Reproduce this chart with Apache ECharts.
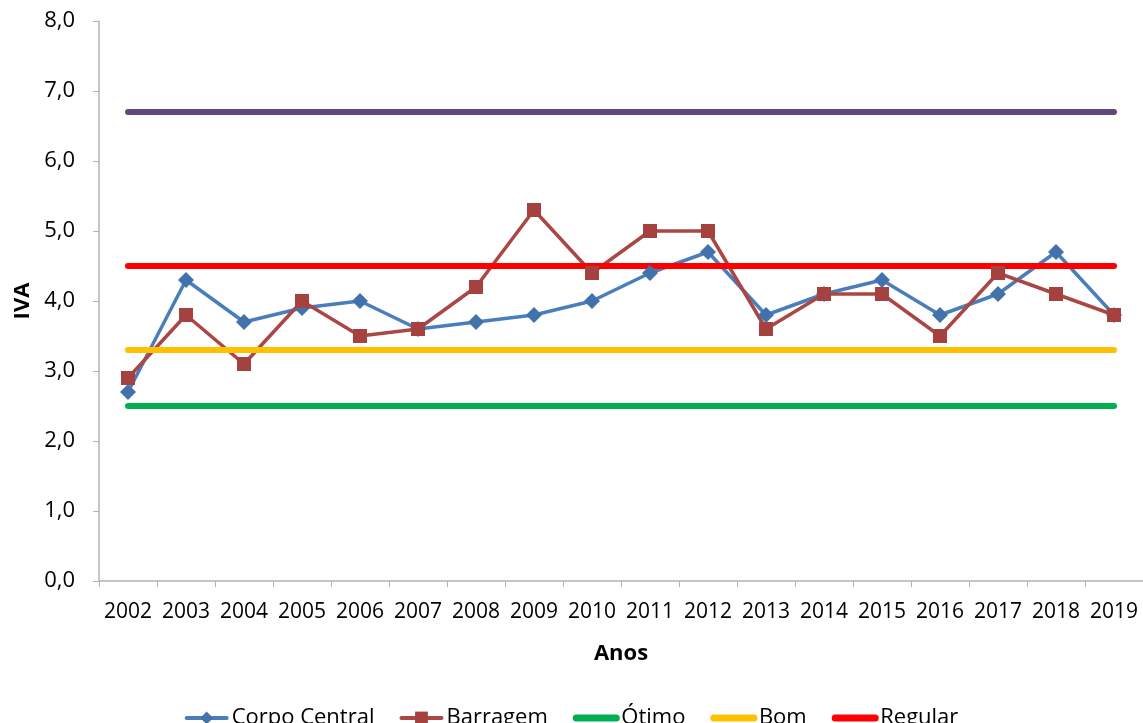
<!DOCTYPE html>
<html>
<head>
<meta charset="utf-8">
<script src="https://cdn.jsdelivr.net/npm/echarts@6/dist/echarts.min.js"></script>
<style>
  html,body{margin:0;padding:0;background:#fff;}
  #main{width:1143px;height:723px;}
</style>
</head>
<body>
<div id="main"></div>
<script>
var anos = ['2002','2003','2004','2005','2006','2007','2008','2009','2010','2011','2012','2013','2014','2015','2016','2017','2018','2019'];
var corpoCentral = [2.7, 4.3, 3.7, 3.9, 4.0, 3.6, 3.7, 3.8, 4.0, 4.4, 4.7, 3.8, 4.1, 4.3, 3.8, 4.1, 4.7, 3.8];
var barragem = [2.9, 3.8, 3.1, 4.0, 3.5, 3.6, 4.2, 5.3, 4.4, 5.0, 5.0, 3.6, 4.1, 4.1, 3.5, 4.4, 4.1, 3.8];
// limites das classes (constantes)
var otimo = 2.5, bom = 3.3, regular = 4.5, ruim = 6.7;

function constante(v){
  var arr = [];
  for (var i = 0; i < anos.length; i++) arr.push(v);
  return arr;
}

var fonte = '"Open Sans", sans-serif';
var myChart = echarts.init(document.getElementById('main'));

function limite(nome, valor, cor){
  return {
    name: nome,
    type: 'line',
    symbol: 'none',
    showSymbol: false,
    data: constante(valor),
    itemStyle: {color: 'rgba(0,0,0,0)'},  // sem marcador na legenda
    lineStyle: {color: cor, width: 6, cap: 'round'}
  };
}

function itemLegenda(nome, largura){
  return {name: nome, lineStyle: {width: largura, cap: 'round'}};
}

var option = {
  animation: false,
  grid: {left: 99, right: -4, top: 21, bottom: 142},
  legend: {
    data: [
      itemLegenda('Corpo Central', 4),
      itemLegenda('Barragem', 4),
      itemLegenda('Ótimo', 7),
      itemLegenda('Bom', 7),
      itemLegenda('Regular', 7)
    ],
    top: 702,
    left: 'center',
    itemWidth: 40,
    itemHeight: 16,
    itemGap: 25,
    textStyle: {fontFamily: fonte, fontSize: 22, color: '#000'}
  },
  xAxis: {
    type: 'category',
    data: anos,
    name: 'Anos',
    nameLocation: 'middle',
    nameGap: 62,
    nameTextStyle: {fontFamily: fonte, fontSize: 22, fontWeight: 'bold', color: '#000'},
    axisLine: {lineStyle: {color: '#b3b3b3', width: 1.5}},
    axisTick: {show: true, length: 6, lineStyle: {color: '#b3b3b3'}},
    axisLabel: {fontFamily: fonte, fontSize: 21, color: '#000', margin: 21, interval: 0}
  },
  yAxis: {
    type: 'value',
    min: 0,
    max: 8,
    interval: 1,
    name: 'IVA',
    nameLocation: 'middle',
    nameGap: 64,
    nameRotate: 90,
    nameTextStyle: {fontFamily: fonte, fontSize: 22, fontWeight: 'bold', color: '#000'},
    splitLine: {show: false},
    axisLine: {show: true, lineStyle: {color: '#b3b3b3', width: 1.5}},
    axisTick: {show: true, length: 6, lineStyle: {color: '#b3b3b3'}},
    axisLabel: {
      fontFamily: fonte, fontSize: 22, color: '#000', margin: 24,
      formatter: function(v){ return v.toFixed(1).replace('.', ','); }
    }
  },
  series: [
    {
      name: 'Corpo Central',
      type: 'line',
      data: corpoCentral,
      symbol: 'diamond',
      symbolSize: 16,
      itemStyle: {color: '#4272AC'},
      lineStyle: {color: '#4A7EBB', width: 3.5}
    },
    {
      name: 'Barragem',
      type: 'line',
      data: barragem,
      symbol: 'rect',
      symbolSize: 14,
      itemStyle: {color: '#A5423F'},
      lineStyle: {color: '#AA4643', width: 3.5}
    },
    limite('Ótimo', otimo, '#00B050'),
    limite('Bom', bom, '#FFC000'),
    limite('Regular', regular, '#FF0000'),
    limite('Ruim', ruim, '#604A7B')
  ]
};

myChart.setOption(option);
</script>
</body>
</html>
